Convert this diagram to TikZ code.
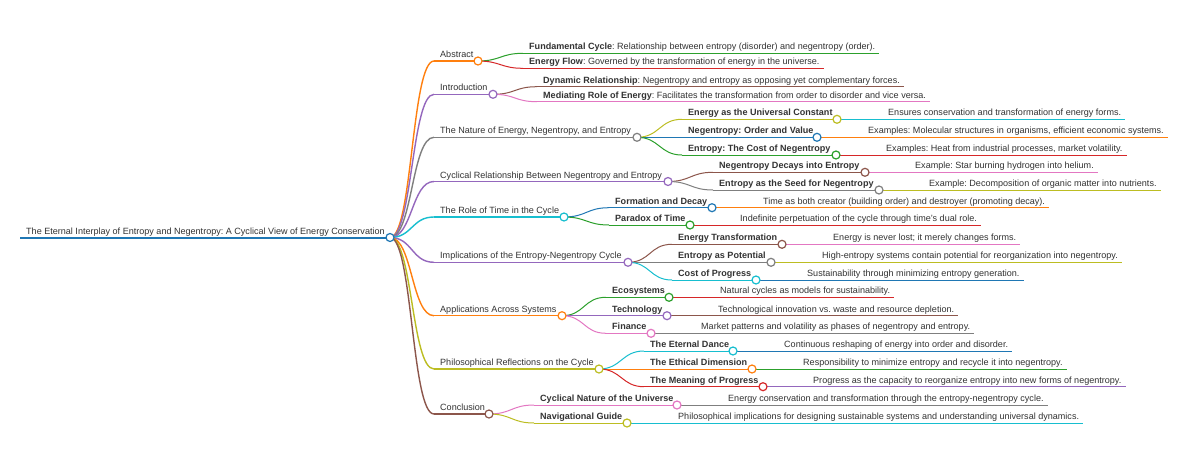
\documentclass[tikz,border=0pt]{standalone}
\usepackage{fontspec}
\setmainfont{Liberation Sans}
\usetikzlibrary{calc}
\pgfdeclarelayer{back}
\pgfdeclarelayer{bg}
\pgfsetlayers{back,bg,main}
\definecolor{cBlue}{HTML}{1F77B4}
\definecolor{cOrange}{HTML}{FF7F0E}
\definecolor{cGreen}{HTML}{2CA02C}
\definecolor{cRed}{HTML}{D62728}
\definecolor{cPurple}{HTML}{9467BD}
\definecolor{cBrown}{HTML}{8C564B}
\definecolor{cPink}{HTML}{E377C2}
\definecolor{cGray}{HTML}{7F7F7F}
\definecolor{cOlive}{HTML}{BCBD22}
\definecolor{cCyan}{HTML}{17BECF}
\definecolor{txtcol}{HTML}{333333}
\frenchspacing
\tikzset{
  txt/.style={font=\fontsize{9.05}{10}\selectfont\frenchspacing, inner sep=0pt, anchor=base west, text=txtcol},
  circ/.style={circle, fill=white, line width=1.2pt, minimum size=8pt, inner sep=0pt},
  l0/.style={line width=2pt},
  l1/.style={line width=1.4pt},
  l2/.style={line width=1pt},
  l3/.style={line width=1pt}
}
% name, color, width, xtext, yline, xcircle, text
\newcommand\mminner[7]{%
  \coordinate (#1s) at (#4-6,#5);
  \node[txt] (#1) at (#4,#5-3.4) {#7};
  \node[circ,draw=#2] (#1c) at (#6,#5) {};
  \begin{pgfonlayer}{bg}\draw[#2,#3] (#1s) -- (#1c.center);\end{pgfonlayer}%
}
% name, color, width, xtext, yline, text
\newcommand\mmleaf[6]{%
  \coordinate (#1s) at (#4-6,#5);
  \node[txt] (#1) at (#4,#5-3.4) {#6};
  \begin{pgfonlayer}{bg}\draw[#2,#3] (#1s) -- ($(#1.base east)+(4,3.4)$);\end{pgfonlayer}%
}
% style, from circle, to start
\newcommand\mmlink[3]{%
  \begin{pgfonlayer}{bg}\draw[#1] (#2.center) .. controls +(22.5,0) and +(-22.5,0) .. (#3);\end{pgfonlayer}%
}
\begin{document}
\begin{tikzpicture}[x=1pt,y=-1pt]
\begin{pgfonlayer}{back}
\fill[white] (0,0) rectangle (1200,453);
\end{pgfonlayer}
\useasboundingbox (0,0) rectangle (1200,453);
% root
\mminner{r}{cBlue}{l0}{26}{237.5}{390}{The Eternal Interplay of Entropy and Negentropy: A Cyclical View of Energy Conservation}
% Abstract
\mminner{a}{cOrange}{l1}{440}{61}{478}{Abstract}
\mmlink{cOrange,l1}{rc}{as}
\mmleaf{a1}{cGreen}{l2}{529}{53.3}{\textbf{Fundamental Cycle}: Relationship between entropy (disorder) and negentropy (order).}
\mmlink{cGreen,l2}{ac}{a1s}
\mmleaf{a2}{cRed}{l2}{529}{68.3}{\textbf{Energy Flow}: Governed by the transformation of energy in the universe.}
\mmlink{cRed,l2}{ac}{a2s}
% Introduction
\mminner{b}{cPurple}{l1}{440}{94.3}{493}{Introduction}
\mmlink{cPurple,l1}{rc}{bs}
\mmleaf{b1}{cBrown}{l2}{543}{86.7}{\textbf{Dynamic Relationship}: Negentropy and entropy as opposing yet complementary forces.}
\mmlink{cBrown,l2}{bc}{b1s}
\mmleaf{b2}{cPink}{l2}{543}{101.7}{\textbf{Mediating Role of Energy}: Facilitates the transformation from order to disorder and vice versa.}
\mmlink{cPink,l2}{bc}{b2s}
% Nature
\mminner{n}{cGray}{l1}{440}{137.3}{637}{The Nature of Energy, Negentropy, and Entropy}
\mmlink{cGray,l1}{rc}{ns}
\mminner{n1}{cOlive}{l2}{688}{119.3}{837}{\textbf{Energy as the Universal Constant}}
\mmlink{cOlive,l2}{nc}{n1s}
\mmleaf{n1a}{cCyan}{l3}{888}{119.3}{Ensures conservation and transformation of energy forms.}
\mmlink{cCyan,l3}{n1c}{n1as}
\mminner{n2}{cBlue}{l2}{688}{137.3}{817}{\textbf{Negentropy: Order and Value}}
\mmlink{cBlue,l2}{nc}{n2s}
\mmleaf{n2a}{cOrange}{l3}{868}{137.3}{Examples: Molecular structures in organisms, efficient economic systems.}
\mmlink{cOrange,l3}{n2c}{n2as}
\mminner{n3}{cGreen}{l2}{688}{155}{836}{\textbf{Entropy: The Cost of Negentropy}}
\mmlink{cGreen,l2}{nc}{n3s}
\mmleaf{n3a}{cRed}{l3}{886}{155}{Examples: Heat from industrial processes, market volatility.}
\mmlink{cRed,l3}{n3c}{n3as}
% Cyclical
\mminner{c}{cPurple}{l1}{440}{181.5}{668}{Cyclical Relationship Between Negentropy and Entropy}
\mmlink{cPurple,l1}{rc}{cs}
\mminner{c1}{cBrown}{l2}{719}{172.3}{865}{\textbf{Negentropy Decays into Entropy}}
\mmlink{cBrown,l2}{cc}{c1s}
\mmleaf{c1a}{cPink}{l3}{915}{172.3}{Example: Star burning hydrogen into helium.}
\mmlink{cPink,l3}{c1c}{c1as}
\mminner{c2}{cGray}{l2}{719}{190}{879}{\textbf{Entropy as the Seed for Negentropy}}
\mmlink{cGray,l2}{cc}{c2s}
\mmleaf{c2a}{cOlive}{l3}{929}{190}{Example: Decomposition of organic matter into nutrients.}
\mmlink{cOlive,l3}{c2c}{c2as}
% Role of time
\mminner{t}{cCyan}{l1}{440}{217}{564}{The Role of Time in the Cycle}
\mmlink{cCyan,l1}{rc}{ts}
\mminner{t1}{cBlue}{l2}{615}{207.7}{712}{\textbf{Formation and Decay}}
\mmlink{cBlue,l2}{tc}{t1s}
\mmleaf{t1a}{cOrange}{l3}{763}{207.7}{Time as both creator (building order) and destroyer (promoting decay).}
\mmlink{cOrange,l3}{t1c}{t1as}
\mminner{t2}{cGreen}{l2}{615}{225}{690}{\textbf{Paradox of Time}}
\mmlink{cGreen,l2}{tc}{t2s}
\mmleaf{t2a}{cRed}{l3}{740}{225}{Indefinite perpetuation of the cycle through time’s dual role.}
\mmlink{cRed,l3}{t2c}{t2as}
% Implications
\mminner{i}{cPurple}{l1}{440}{262.3}{628}{Implications of the Entropy-Negentropy Cycle}
\mmlink{cPurple,l1}{rc}{is}
\mminner{i1}{cBrown}{l2}{678}{244.3}{782}{\textbf{Energy Transformation}}
\mmlink{cBrown,l2}{ic}{i1s}
\mmleaf{i1a}{cPink}{l3}{833}{244.3}{Energy is never lost; it merely changes forms.}
\mmlink{cPink,l3}{i1c}{i1as}
\mminner{i2}{cGray}{l2}{678}{262.3}{771}{\textbf{Entropy as Potential}}
\mmlink{cGray,l2}{ic}{i2s}
\mmleaf{i2a}{cOlive}{l3}{822}{262.3}{High-entropy systems contain potential for reorganization into negentropy.}
\mmlink{cOlive,l3}{i2c}{i2as}
\mminner{i3}{cCyan}{l2}{678}{280}{756}{\textbf{Cost of Progress}}
\mmlink{cCyan,l2}{ic}{i3s}
\mmleaf{i3a}{cBlue}{l3}{807}{280}{Sustainability through minimizing entropy generation.}
\mmlink{cBlue,l3}{i3c}{i3as}
% Applications
\mminner{p}{cOrange}{l1}{440}{315.7}{562}{Applications Across Systems}
\mmlink{cOrange,l1}{rc}{ps}
\mminner{p1}{cGreen}{l2}{612}{297.3}{669}{\textbf{Ecosystems}}
\mmlink{cGreen,l2}{pc}{p1s}
\mmleaf{p1a}{cRed}{l3}{720}{297.3}{Natural cycles as models for sustainability.}
\mmlink{cRed,l3}{p1c}{p1as}
\mminner{p2}{cPurple}{l2}{612}{315.7}{667}{\textbf{Technology}}
\mmlink{cPurple,l2}{pc}{p2s}
\mmleaf{p2a}{cBrown}{l3}{718}{315.7}{Technological innovation vs. waste and resource depletion.}
\mmlink{cBrown,l3}{p2c}{p2as}
\mminner{p3}{cPink}{l2}{612}{333.3}{651}{\textbf{Finance}}
\mmlink{cPink,l2}{pc}{p3s}
\mmleaf{p3a}{cGray}{l3}{701}{333.3}{Market patterns and volatility as phases of negentropy and entropy.}
\mmlink{cGray,l3}{p3c}{p3as}
% Philosophical
\mminner{h}{cOlive}{l1}{440}{369}{599}{Philosophical Reflections on the Cycle}
\mmlink{cOlive,l1}{rc}{hs}
\mminner{h1}{cCyan}{l2}{650}{351}{733}{\textbf{The Eternal Dance}}
\mmlink{cCyan,l2}{hc}{h1s}
\mmleaf{h1a}{cBlue}{l3}{784}{351}{Continuous reshaping of energy into order and disorder.}
\mmlink{cBlue,l3}{h1c}{h1as}
\mminner{h2}{cOrange}{l2}{650}{369}{752}{\textbf{The Ethical Dimension}}
\mmlink{cOrange,l2}{hc}{h2s}
\mmleaf{h2a}{cGreen}{l3}{803}{369}{Responsibility to minimize entropy and recycle it into negentropy.}
\mmlink{cGreen,l3}{h2c}{h2as}
\mminner{h3}{cRed}{l2}{650}{386.7}{763}{\textbf{The Meaning of Progress}}
\mmlink{cRed,l2}{hc}{h3s}
\mmleaf{h3a}{cPurple}{l3}{813}{386.7}{Progress as the capacity to reorganize entropy into new forms of negentropy.}
\mmlink{cPurple,l3}{h3c}{h3as}
% Conclusion
\mminner{k}{cBrown}{l1}{440}{414}{489}{Conclusion}
\mmlink{cBrown,l1}{rc}{ks}
\mminner{k1}{cPink}{l2}{540}{405}{677}{\textbf{Cyclical Nature of the Universe}}
\mmlink{cPink,l2}{kc}{k1s}
\mmleaf{k1a}{cGray}{l3}{728}{405}{Energy conservation and transformation through the entropy-negentropy cycle.}
\mmlink{cGray,l3}{k1c}{k1as}
\mminner{k2}{cOlive}{l2}{540}{423}{627}{\textbf{Navigational Guide}}
\mmlink{cOlive,l2}{kc}{k2s}
\mmleaf{k2a}{cCyan}{l3}{678}{423}{Philosophical implications for designing sustainable systems and understanding universal dynamics.}
\mmlink{cCyan,l3}{k2c}{k2as}
\end{tikzpicture}
\end{document}
